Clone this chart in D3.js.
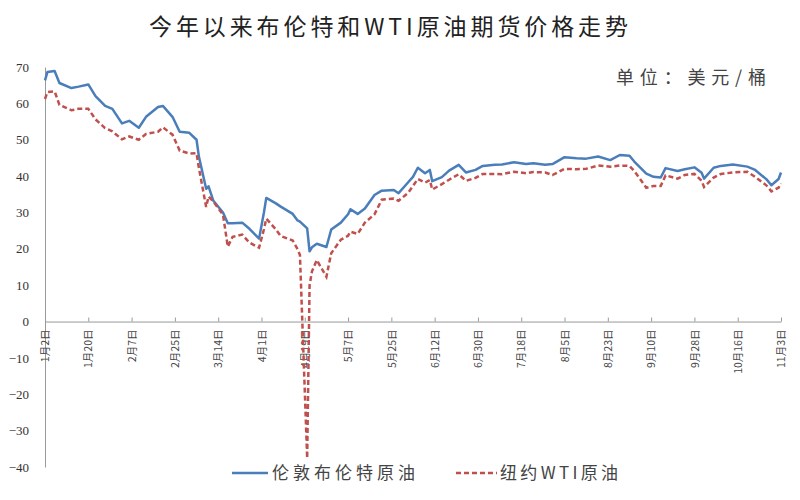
<!DOCTYPE html>
<html><head><meta charset="utf-8">
<script src="https://cdn.jsdelivr.net/npm/d3@7/dist/d3.min.js"></script>
<style>
html,body{margin:0;padding:0;background:#fff;}
svg{display:block;}
</style></head>
<body><svg id="c" width="800" height="500"></svg>
<script>
const title = "今年以来布伦特和WTI原油期货价格走势";
const unitLabel = "单位：美元/桶";
const seriesNames = ["伦敦布伦特原油", "纽约WTI原油"];
const yTicks = [70, 60, 50, 40, 30, 20, 10, 0, -10, -20, -30, -40];
const xTickDates = ["2020-01-02","2020-01-20","2020-02-07","2020-02-25","2020-03-14","2020-04-01","2020-04-19","2020-05-07","2020-05-25","2020-06-12","2020-06-30","2020-07-18","2020-08-05","2020-08-23","2020-09-10","2020-09-28","2020-10-16","2020-11-03"];

const dates = ["01-02","01-03","01-06","01-08","01-13","01-16","01-20","01-23","01-27","01-30",
"02-03","02-06","02-10","02-13","02-18","02-20","02-24","02-27",
"03-02","03-05","03-06","03-09","03-10","03-12","03-16","03-18","03-20","03-24","03-27","03-31",
"04-02","04-03","04-07","04-09","04-14","04-16","04-17","04-20","04-21","04-22","04-24","04-28","04-30",
"05-04","05-07","05-08","05-11","05-14","05-18","05-21","05-26","05-28",
"06-01","06-03","06-05","06-08","06-10","06-11","06-15","06-18","06-22","06-25","06-29",
"07-02","07-07","07-10","07-15","07-20","07-23","07-28","07-31",
"08-05","08-10","08-14","08-19","08-24","08-28",
"09-01","09-03","09-08","09-11","09-14","09-16","09-21","09-24","09-28",
"10-01","10-02","10-06","10-09","10-14","10-20","10-23","10-28","10-30",
"11-02","11-03"];

const brent = [66.3,68.6,68.9,65.6,64.2,64.6,65.2,62.0,59.3,58.5,
54.5,55.2,53.3,56.3,59.0,59.3,56.3,52.2,
51.9,50.0,45.3,36.5,37.2,33.2,30.0,27.0,27.0,27.2,25.5,22.8,
29.9,34.0,32.5,31.6,29.6,27.8,27.5,25.6,19.3,20.4,21.4,20.5,25.3,
27.2,29.5,30.9,29.6,31.1,34.8,36.0,36.2,35.3,
38.3,39.8,42.3,40.8,41.7,38.6,39.7,41.5,43.1,41.0,41.7,
42.8,43.1,43.2,43.8,43.3,43.5,43.1,43.3,
45.2,44.9,44.8,45.4,44.4,45.8,
45.6,44.0,40.7,39.8,39.6,42.2,41.4,41.9,42.4,
40.9,39.3,42.3,42.8,43.2,42.6,41.8,39.1,37.5,
39.2,41.0];

const wti = [61.2,63.1,63.3,59.6,58.1,58.5,58.5,55.6,53.2,52.3,
50.1,50.9,50.0,51.6,52.2,53.4,51.4,47.0,
46.2,46.3,42.2,31.5,34.4,33.0,29.4,20.6,23.3,23.9,21.7,20.3,
25.3,28.3,25.3,23.5,22.3,19.9,18.3,-37.6,10.0,13.8,16.9,12.3,18.8,
22.5,23.6,24.7,24.1,27.2,29.5,33.5,33.8,33.2,
35.4,37.3,39.2,38.2,38.9,36.3,37.8,39.0,40.5,38.7,39.5,
40.6,40.6,40.5,41.2,40.8,41.1,41.0,40.3,
42.0,41.9,42.0,42.9,42.6,42.9,
42.8,41.4,36.8,37.3,37.3,40.2,39.3,40.3,40.6,
38.7,37.0,39.6,40.6,41.0,41.2,39.9,37.4,35.8,
36.8,38.0];

const colors = ["#4A7EBB", "#C0504D"];

const parse = d3.timeParse("%Y-%m-%d");
const rows = dates.map((d, i) => ({date: parse("2020-" + d), brent: brent[i], wti: wti[i]}));
const tickVals = xTickDates.map(parse);

const svg = d3.select("#c");
const x = d3.scaleTime().domain([tickVals[0], tickVals[tickVals.length - 1]]).range([45, 781]);
const y = d3.scaleLinear().domain([-40, 70]).range([467, 67]);

// title
svg.append("text").attr("x", 149).attr("y", 35)
  .attr("textLength", 479).attr("lengthAdjust", "spacing")
  .style("font-family", "'Noto Sans CJK SC', sans-serif").style("font-size", "23px")
  .style("fill", "#222").text(title);

svg.append("text").attr("x", 616).attr("y", 84)
  .attr("textLength", 150).attr("lengthAdjust", "spacing")
  .style("font-family", "'Noto Sans CJK SC', sans-serif").style("font-size", "18px")
  .style("fill", "#444").text(unitLabel);

// y axis
const yAxis = d3.axisLeft(y).tickValues(yTicks).tickSize(0).tickPadding(16);
const gy = svg.append("g").attr("transform", "translate(45,0)").call(yAxis);
gy.select(".domain").attr("stroke", "#999").attr("stroke-width", 1);
gy.selectAll("text").style("font-family", "'Liberation Serif', serif").style("font-size", "13px").style("fill", "#333");

// x axis
const xAxis = d3.axisBottom(x).tickValues(tickVals).tickSizeInner(-4).tickSizeOuter(0)
  .tickFormat(d => (d.getMonth() + 1) + "月" + d.getDate() + "日");
const gx = svg.append("g").attr("transform", `translate(0,${y(0)})`).call(xAxis);
gx.select(".domain").attr("stroke", "#999").attr("stroke-width", 1);
gx.selectAll(".tick line").attr("stroke", "#999");
gx.selectAll("text")
  .attr("transform", "rotate(-90)")
  .attr("x", -8).attr("y", 0).attr("dy", "0.35em")
  .style("text-anchor", "end")
  .style("font-family", "'Noto Sans CJK SC', sans-serif").style("font-size", "10.5px").style("fill", "#444");

// lines
const lineB = d3.line().x(d => x(d.date)).y(d => y(d.brent));
const lineW = d3.line().x(d => x(d.date)).y(d => y(d.wti));
svg.append("path").datum(rows).attr("d", lineB).attr("fill", "none")
  .attr("stroke", colors[0]).attr("stroke-width", 2.5).attr("stroke-linejoin", "round");
svg.append("path").datum(rows).attr("d", lineW).attr("fill", "none")
  .attr("stroke", colors[1]).attr("stroke-width", 2.5).attr("stroke-dasharray", "5,3");

// legend
const leg = [{x1: 232, x2: 268, tx: 272, tl: 143}, {x1: 456, x2: 497, tx: 500, tl: 118}];
leg.forEach((l, i) => {
  svg.append("line").attr("x1", l.x1).attr("x2", l.x2).attr("y1", 473).attr("y2", 473)
    .attr("stroke", colors[i]).attr("stroke-width", 2.5)
    .attr("stroke-dasharray", i === 1 ? "5,3" : null);
  svg.append("text").attr("x", l.tx).attr("y", 479)
    .attr("textLength", l.tl).attr("lengthAdjust", "spacing")
    .style("font-family", "'Noto Sans CJK SC', sans-serif").style("font-size", "17px")
    .style("fill", "#444").text(seriesNames[i]);
});
</script></body></html>
